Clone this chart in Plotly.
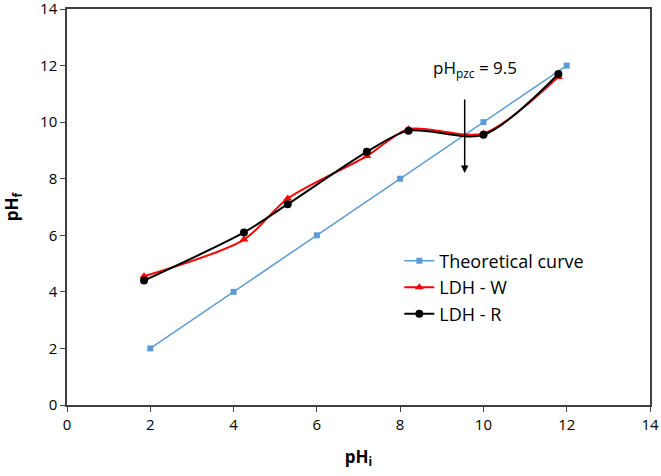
import plotly.graph_objects as go

theo_x = [2, 4, 6, 8, 10, 12]
theo_y = [2, 4, 6, 8, 10, 12]
w_x = [1.85, 4.25, 5.3, 7.2, 8.2, 10.0, 11.8]
w_y = [4.55, 5.85, 7.3, 8.8, 9.75, 9.6, 11.6]
r_x = [1.85, 4.25, 5.3, 7.2, 8.2, 10.0, 11.8]
r_y = [4.4, 6.1, 7.1, 8.95, 9.7, 9.55, 11.7]
pzc = 9.55

font = "Open Sans"
fig = go.Figure()
fig.add_trace(go.Scatter(x=theo_x, y=theo_y, mode="lines+markers", name="Theoretical curve",
                         line=dict(color="#5B9BD5", width=1.5),
                         marker=dict(symbol="square", size=6, color="#5B9BD5")))
fig.add_trace(go.Scatter(x=w_x, y=w_y, mode="lines+markers", name="LDH - W",
                         line=dict(color="#FF0000", width=2, shape="spline", smoothing=0.8),
                         marker=dict(symbol="triangle-up", size=8, color="#FF0000")))
fig.add_trace(go.Scatter(x=r_x, y=r_y, mode="lines+markers", name="LDH - R",
                         line=dict(color="#000000", width=2, shape="spline", smoothing=0.8),
                         marker=dict(symbol="circle", size=8, color="#000000")))

fig.add_annotation(x=pzc, y=8.2, ax=pzc, ay=10.85, xref="x", yref="y", axref="x", ayref="y",
                   showarrow=True, arrowhead=2, arrowsize=1, arrowwidth=1.5, arrowcolor="#000000", text="")
fig.add_annotation(x=9.8, y=11.9, xref="x", yref="y", showarrow=False,
                   text="pH<sub>pzc</sub> = 9.5", font=dict(family=font, size=17, color="#000000"))

axis_common = dict(showgrid=False, zeroline=False, showline=True, linecolor="#404040", linewidth=1.5,
                   mirror=True, ticks="outside", ticklen=5, tickcolor="#404040", automargin=False,
                   ticklabeloverflow="allow",
                   tickfont=dict(family=font, size=15, color="#000000"))
fig.update_xaxes(range=[0, 14], dtick=2, title=dict(text="<b>pH<sub>i</sub></b>", font=dict(family=font, size=17, color="#000000"), standoff=18), **axis_common)
fig.update_yaxes(range=[0, 14], dtick=2, title=dict(text="<b>pH<sub>f</sub></b>", font=dict(family=font, size=17, color="#000000"), standoff=50), **axis_common)

fig.update_layout(width=661, height=476, margin=dict(l=67, r=11, t=9, b=71),
                  plot_bgcolor="white", paper_bgcolor="white",
                  legend=dict(x=0.57, y=0.41, xanchor="left", yanchor="top", bgcolor="rgba(0,0,0,0)",
                              font=dict(family=font, size=18, color="#000000"), tracegroupgap=1,
                              itemwidth=30),
                  font=dict(family=font))
fig.write_html("out.html", config={"displayModeBar": False},
               post_script="document.body.style.margin='0';document.body.style.overflow='hidden';")
